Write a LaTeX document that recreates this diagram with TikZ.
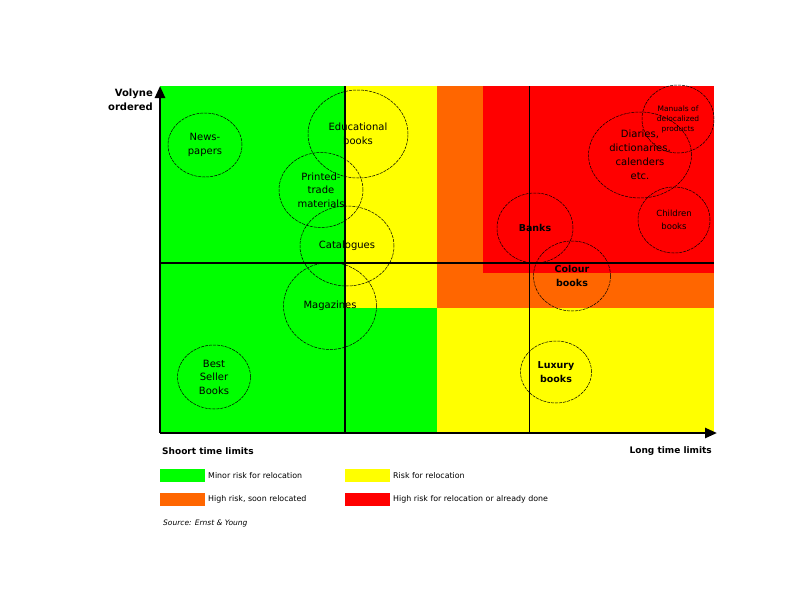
\documentclass[tikz,border=0pt]{standalone}
\usepackage{fontspec}
\setmainfont{DejaVu Sans}
\usetikzlibrary{shapes.geometric,arrows.meta}
\definecolor{cgreen}{RGB}{0,255,0}
\definecolor{cyellow}{RGB}{255,255,0}
\definecolor{corange}{RGB}{255,102,0}
\definecolor{cred}{RGB}{255,0,0}
\begin{document}
\begin{tikzpicture}[x=1pt,y=-1pt,
 bubble/.style={ellipse, draw=black, line width=0.5pt, dash pattern=on 3pt off 1pt, inner sep=0pt, align=center, font=\fontsize{10}{13.5}\selectfont},
 boldbubble/.style={bubble, font=\bfseries\fontsize{9.5}{13.5}\selectfont},
 smallbubble/.style={bubble, font=\fontsize{7.5}{10}\selectfont},
 axlab/.style={font=\bfseries\fontsize{9}{13}\selectfont, inner sep=0pt},
 legbox/.style={minimum width=45pt, minimum height=13pt, inner sep=0pt, anchor=north west},
 legtext/.style={font=\fontsize{7.9}{9}\selectfont, anchor=west, inner sep=0pt},
 axisline/.style={line width=2.5pt, -{Triangle[length=12pt,width=10pt]}}]
\useasboundingbox[fill=white] (0,0) rectangle (800,600);
% zones
\fill[cgreen] (160,86) rectangle (437,433);
\fill[cyellow] (345,86) rectangle (437,308);
\fill[corange] (437,86) rectangle (714,308);
\fill[cred] (483,86) rectangle (714,273);
\fill[cyellow] (437,308) rectangle (714,433);
% dividing lines
\draw[line width=2pt] (345,86) -- (345,433);
\draw[line width=2pt] (160,263) -- (714,263);
\draw[line width=0.8pt] (529,86) -- (529,433);
% axes
\coordinate (O) at (160,433);
\coordinate (ytop) at (160,86);
\coordinate (xend) at (717,433);
\draw[axisline] (O) -- (ytop);
\draw[axisline] (O) -- (xend);
\node[axlab, font=\bfseries\fontsize{10}{14}\selectfont, align=right, anchor=east] (ylab) at (153,100) {Volyne\\ordered};
\node[axlab, anchor=west] (xshort) at (162,451) {Shoort time limits};
\node[axlab, anchor=east] (xlong) at (712,451) {Long time limits};
% bubbles
\node[bubble, minimum width=74pt, minimum height=64pt] (news) at (205,145) {News-\\papers};
\node[bubble, minimum width=100pt, minimum height=88pt] (edu) at (358,134) {Educational\\books};
\node[bubble, minimum width=84pt, minimum height=75pt] (printed) at (321,190) {Printed-\\trade\\materials};
\node[bubble, minimum width=94pt, minimum height=80pt] (cat) at (347,246) {Catalogues};
\node[bubble, minimum width=93pt, minimum height=87pt] (mag) at (330,306) {Magazines};
\node[bubble, minimum width=73pt, minimum height=64pt] (best) at (214,377) {Best\\Seller\\Books};
\node[boldbubble, minimum width=71pt, minimum height=62pt] (lux) at (556,372) {Luxury\\books};
\node[boldbubble, minimum width=76pt, minimum height=70pt] (banks) at (535,228) {Banks};
\node[boldbubble, minimum width=77pt, minimum height=70pt] (colour) at (572,276) {Colour\\books};
\node[bubble, font=\fontsize{10}{14}\selectfont, minimum width=103pt, minimum height=86pt] (diaries) at (640,155) {Diaries,\\dictionaries,\\calenders\\etc.};
\node[smallbubble, minimum width=72pt, minimum height=68pt] (manuals) at (678,119) {Manuals of\\delocalized\\products};
\node[smallbubble, font=\fontsize{8.5}{12.5}\selectfont, minimum width=72pt, minimum height=66pt] (children) at (674,220) {Children\\books};
% legend
\node[legbox, fill=cgreen] (lg) at (160,469) {};
\node[legtext] (lgt) at (208,475.5) {Minor risk for relocation};
\node[legbox, fill=cyellow] (ly) at (345,469) {};
\node[legtext] (lyt) at (393,475.5) {Risk for relocation};
\node[legbox, fill=corange] (lo) at (160,493) {};
\node[legtext] (lot) at (208,499.5) {High risk, soon relocated};
\node[legbox, fill=cred] (lr) at (345,493) {};
\node[legtext] (lrt) at (393,499.5) {High risk for relocation or already done};
\node[legtext, font=\itshape\fontsize{7.5}{9}\selectfont] (src) at (163,523) {Source: Ernst \& Young};
\end{tikzpicture}
\end{document}
